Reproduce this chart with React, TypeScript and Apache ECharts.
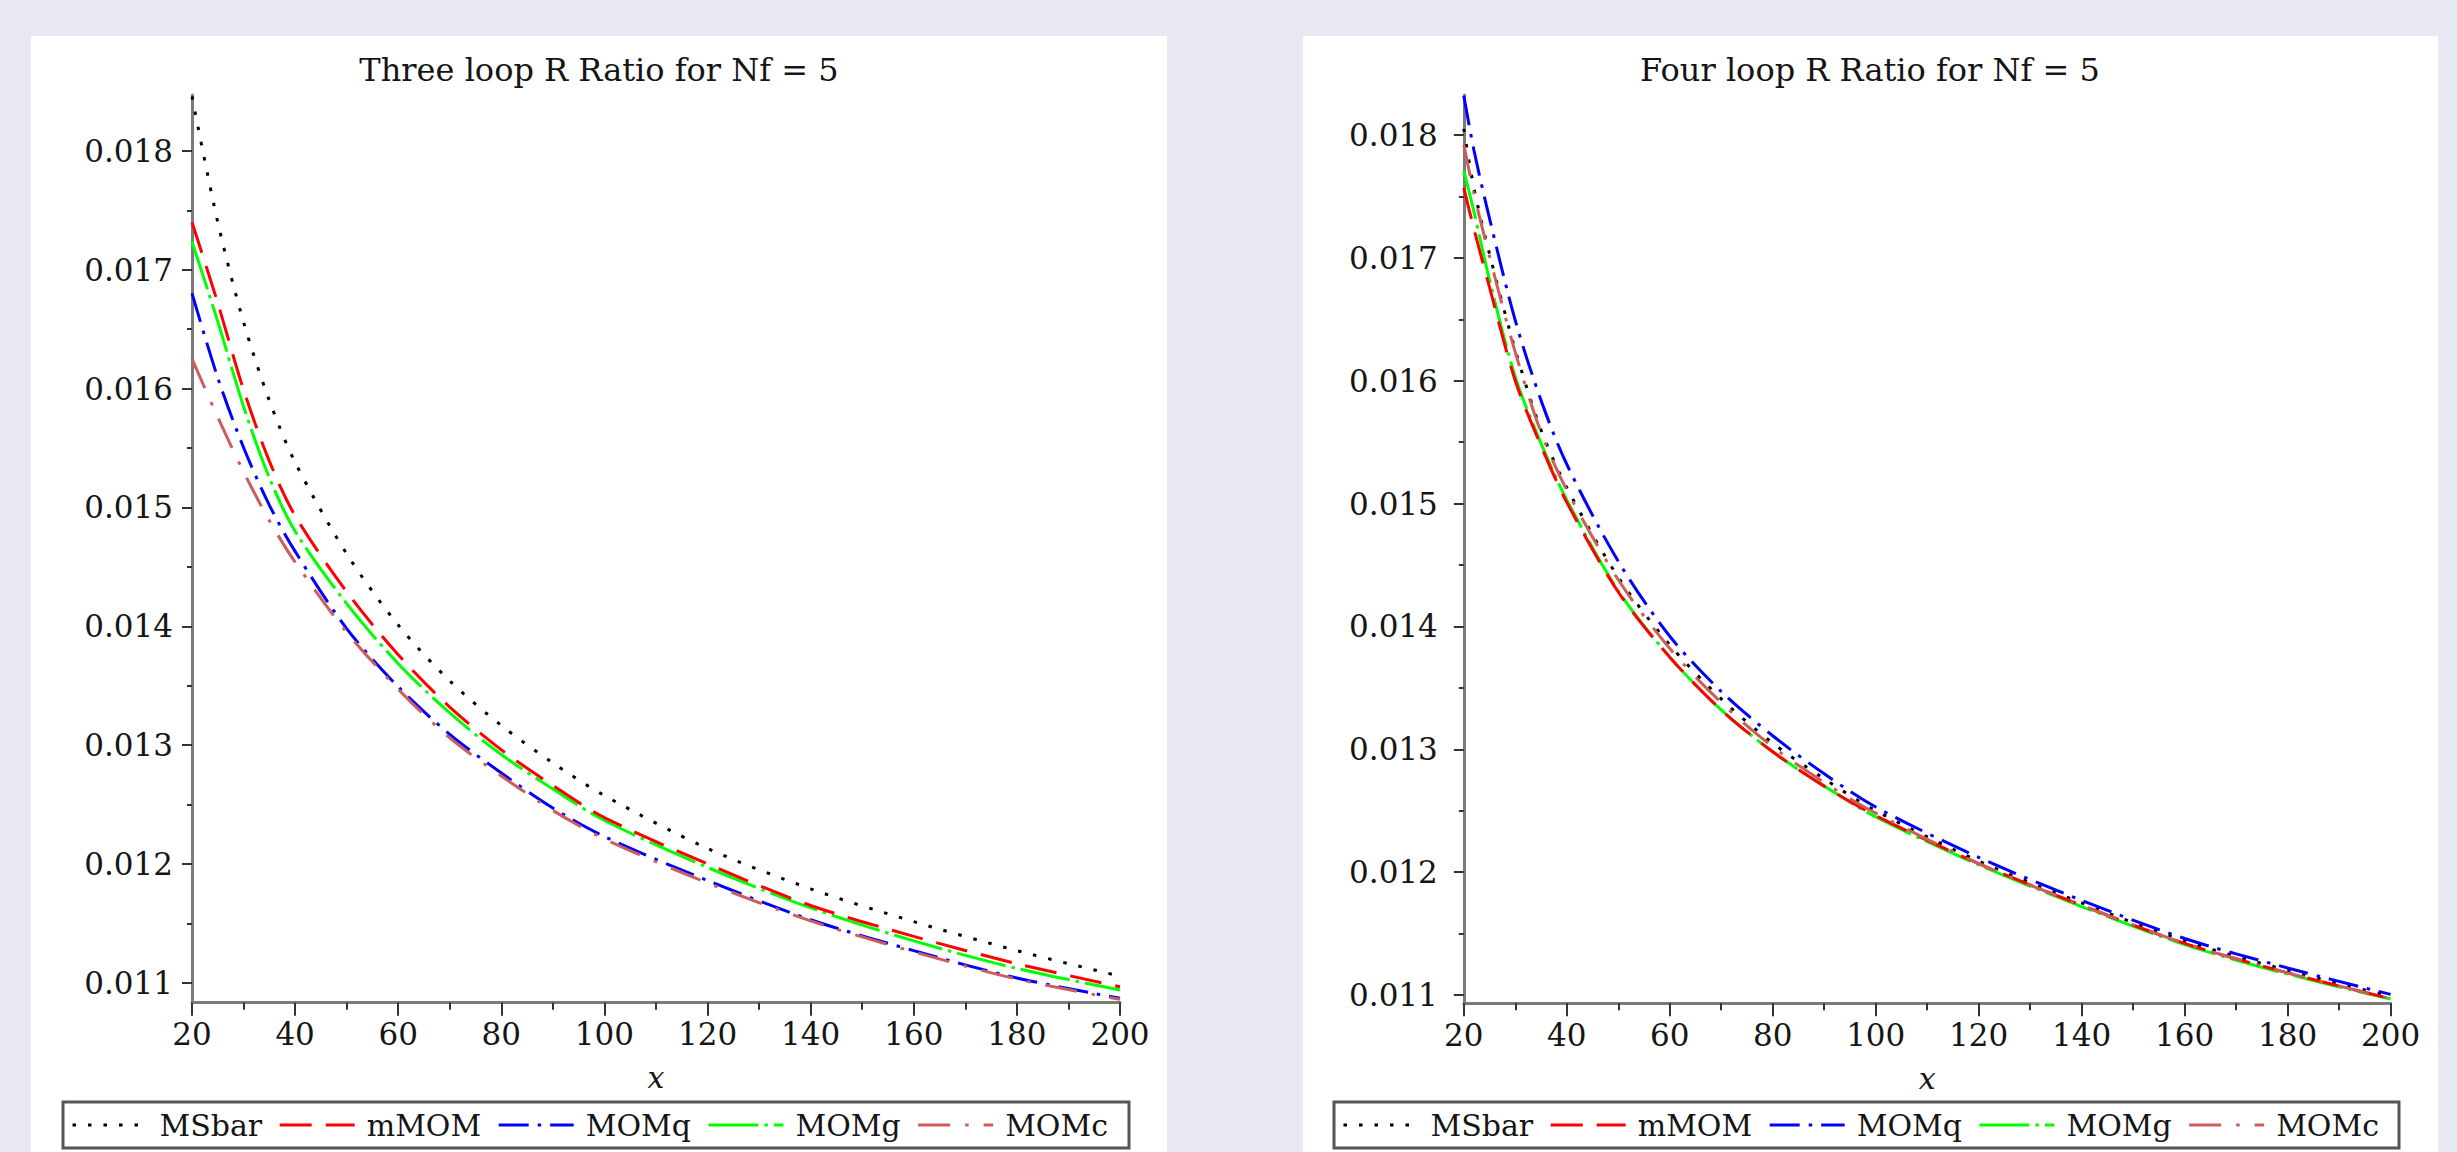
import React, { useEffect, useRef } from "react";
import * as echarts from "echarts";

// ---------- data ----------
const SERIES_NAMES = ["MSbar", "mMOM", "MOMq", "MOMg", "MOMc"];

const X_LEFT = [20, 25, 30, 35, 40, 50, 60, 70, 80, 90, 100, 120, 140, 160, 180, 200];
const L_MSBAR = [0.01846, 0.0174, 0.01656, 0.0159, 0.01538, 0.01461, 0.01401, 0.01354, 0.013165, 0.01285, 0.012575, 0.01213, 0.01179, 0.011514, 0.01127, 0.011055];
const L_MMOM = [0.0174, 0.01672, 0.01599, 0.01539, 0.01493, 0.01429, 0.01376, 0.01332, 0.01296, 0.01266, 0.01239, 0.012, 0.01165, 0.01139, 0.01116, 0.010966];
const L_MOMQ = [0.016802, 0.01609, 0.015505, 0.01502, 0.01463, 0.01398, 0.01349, 0.01309, 0.012765, 0.01247, 0.01223, 0.01186, 0.01153, 0.01127, 0.01104, 0.010869];
const L_MOMG = [0.017237, 0.016565, 0.01585, 0.01525, 0.0148, 0.01419, 0.013685, 0.01327, 0.01292, 0.01263, 0.012365, 0.01197, 0.01163, 0.011352, 0.01112, 0.010939];
const L_MOMC = [0.01625, 0.01576, 0.0153, 0.01489, 0.01454, 0.01395, 0.01347, 0.01306, 0.01274, 0.01245, 0.01221, 0.01184, 0.01152, 0.01126, 0.01103, 0.01086];

const X_RIGHT = [20, 22, 25, 30, 35, 40, 50, 60, 70, 80, 90, 100, 120, 140, 160, 180, 200];
const R_MSBAR = [0.01805, 0.01756, 0.01703, 0.01625, 0.0156, 0.01513, 0.0144, 0.01385, 0.01341, 0.01305, 0.01276, 0.0125, 0.01209, 0.01175, 0.01144, 0.0112, 0.01099];
const R_MMOM = [0.01757, 0.01723, 0.01676, 0.016, 0.01547, 0.01501, 0.01428, 0.01375, 0.01332, 0.01298, 0.0127, 0.01246, 0.01207, 0.01173, 0.01142, 0.01118, 0.01097];
const R_MOMQ = [0.01832, 0.01787, 0.01732, 0.01649, 0.01584, 0.01532, 0.01453, 0.01392, 0.01347, 0.01311, 0.0128, 0.01253, 0.01212, 0.01177, 0.01146, 0.01122, 0.011005];
const R_MOMG = [0.01771, 0.01737, 0.01682, 0.01603, 0.01549, 0.01503, 0.01429, 0.01375, 0.01332, 0.01298, 0.0127, 0.01245, 0.01206, 0.01172, 0.01141, 0.01117, 0.010967];
const R_MOMC = [0.01792, 0.01752, 0.01701, 0.01623, 0.01558, 0.01511, 0.01438, 0.01382, 0.01338, 0.01302, 0.01273, 0.01248, 0.01207, 0.01173, 0.01142, 0.01118, 0.01097];

const Y_MAJOR = [0.011, 0.012, 0.013, 0.014, 0.015, 0.016, 0.017, 0.018];
const Y_MINOR = [0.0115, 0.0125, 0.0135, 0.0145, 0.0155, 0.0165, 0.0175];

const TITLES = ["Three loop R Ratio for Nf = 5", "Four loop R Ratio for Nf = 5"];

// ---------- style ----------
const FONT = "DejaVu Serif";
const TEXT_COLOR = "#151515";
const COLORS = ["#000000", "#ff0000", "#0000ff", "#00ff00", "#cd5c5c"];
const DASHES: number[][] = [
  [3.5, 12],
  [32, 14],
  [30, 9, 3.5, 9],
  [50, 6, 3.5, 6],
  [32, 15, 3.5, 15],
];

function pairs(xs: number[], ys: number[]) {
  return xs.map((x, i) => [x, ys[i]]);
}

function xAxisDef(gridIndex: number) {
  return {
    gridIndex,
    type: "value",
    min: 20,
    max: 200,
    interval: 20,
    name: "x",
    nameLocation: "middle",
    nameGap: 60,
    nameTextStyle: { fontFamily: FONT, fontStyle: "italic", fontSize: 30, color: TEXT_COLOR },
    axisLine: { show: true, lineStyle: { color: "#7a7a7a", width: 3 } },
    axisTick: { show: true, inside: false, length: 13, lineStyle: { color: "#333", width: 2 } },
    minorTick: { show: true, splitNumber: 2, length: 7, lineStyle: { color: "#333", width: 2 } },
    splitLine: { show: false },
    minorSplitLine: { show: false },
    axisLabel: { fontFamily: FONT, fontSize: 31, color: TEXT_COLOR, margin: 16 },
  };
}

function yAxisDefs(gridIndex: number, min: number, max: number, labelMargin: number) {
  return [
    {
      gridIndex,
      type: "value",
      position: "left",
      min,
      max,
      axisLine: { show: true, onZero: false, lineStyle: { color: "#7a7a7a", width: 3 } },
      axisTick: { show: true, inside: false, length: 10, customValues: Y_MAJOR, lineStyle: { color: "#333", width: 2 } },
      axisLabel: {
        show: true,
        customValues: Y_MAJOR,
        fontFamily: FONT,
        fontSize: 31,
        color: TEXT_COLOR,
        margin: labelMargin,
        formatter: (v: number) => v.toFixed(3),
      },
      splitLine: { show: false },
    },
    {
      gridIndex,
      type: "value",
      position: "left",
      offset: 0,
      min,
      max,
      axisLine: { show: false },
      axisTick: { show: true, inside: false, length: 5, customValues: Y_MINOR, lineStyle: { color: "#333", width: 2 } },
      axisLabel: { show: false },
      splitLine: { show: false },
    },
  ];
}

function seriesFor(xs: number[], data: number[][], gridIdx: number) {
  return data.map((ys, i) => ({
    name: SERIES_NAMES[i],
    type: "line",
    xAxisIndex: gridIdx,
    yAxisIndex: gridIdx * 2,
    data: pairs(xs, ys),
    symbol: "none",
    showSymbol: false,
    smooth: 0.3,
    lineStyle: { color: COLORS[i], width: 3, type: DASHES[i] },
    itemStyle: { color: COLORS[i] },
    z: 3 + (i === 3 ? 0 : 1),
  }));
}

function legendDef(left: number) {
  return {
    left,
    top: 1110,
    orient: "horizontal",
    padding: 0,
    itemWidth: 75,
    itemHeight: 20,
    itemGap: 16,
    data: SERIES_NAMES,
    selectedMode: false,
    itemStyle: { color: "transparent", borderWidth: 0, opacity: 0 },
    lineStyle: { width: 3 },
    textStyle: { fontFamily: FONT, fontSize: 30, color: TEXT_COLOR, padding: [0, 0, 0, 7] },
  };
}

export default function App() {
  const ref = useRef<HTMLDivElement>(null);
  useEffect(() => {
    if (!ref.current) return;
    const chart = echarts.init(ref.current, null, { renderer: "svg" });
    const option: any = {
      animation: false,
      backgroundColor: "#e8e8f2",
      graphic: [
        { type: "rect", z: -10, shape: { x: 31, y: 36, width: 1136, height: 1116 }, style: { fill: "#ffffff" } },
        { type: "rect", z: -10, shape: { x: 1303, y: 36, width: 1135, height: 1116 }, style: { fill: "#ffffff" } },
        { type: "rect", z: 10, shape: { x: 63, y: 1102, width: 1066, height: 46 }, style: { fill: "none", stroke: "#555555", lineWidth: 3 } },
        { type: "rect", z: 10, shape: { x: 1334, y: 1102, width: 1065, height: 46 }, style: { fill: "none", stroke: "#555555", lineWidth: 3 } },
        { type: "text", z: 10, x: 599, y: 70, style: { text: TITLES[0], align: "center", verticalAlign: "middle", font: `32px "${FONT}"`, fill: TEXT_COLOR } },
        { type: "text", z: 10, x: 1870, y: 70, style: { text: TITLES[1], align: "center", verticalAlign: "middle", font: `32px "${FONT}"`, fill: TEXT_COLOR } },
      ],
      grid: [
        { left: 192, right: 2457 - 1120, top: 95, bottom: 1152 - 1002.7, containLabel: false },
        { left: 1463.8, right: 2457 - 2390.6, top: 95, bottom: 1152 - 1003.3, containLabel: false },
      ],
      xAxis: [xAxisDef(0), xAxisDef(1)],
      yAxis: [
        ...yAxisDefs(0, 0.0108317, 0.0184713, 19),
        ...yAxisDefs(1, 0.0109324, 0.0183256, 26),
      ],
      legend: [legendDef(71), legendDef(1342)],
      series: [
        ...seriesFor(X_LEFT, [L_MSBAR, L_MMOM, L_MOMQ, L_MOMG, L_MOMC], 0),
        ...seriesFor(X_RIGHT, [R_MSBAR, R_MMOM, R_MOMQ, R_MOMG, R_MOMC], 1),
      ],
    };
    chart.setOption(option);
    return () => chart.dispose();
  }, []);
  return (
    <div
      ref={ref}
      style={{ position: "fixed", left: 0, top: 0, width: 2457, height: 1152 }}
    />
  );
}
